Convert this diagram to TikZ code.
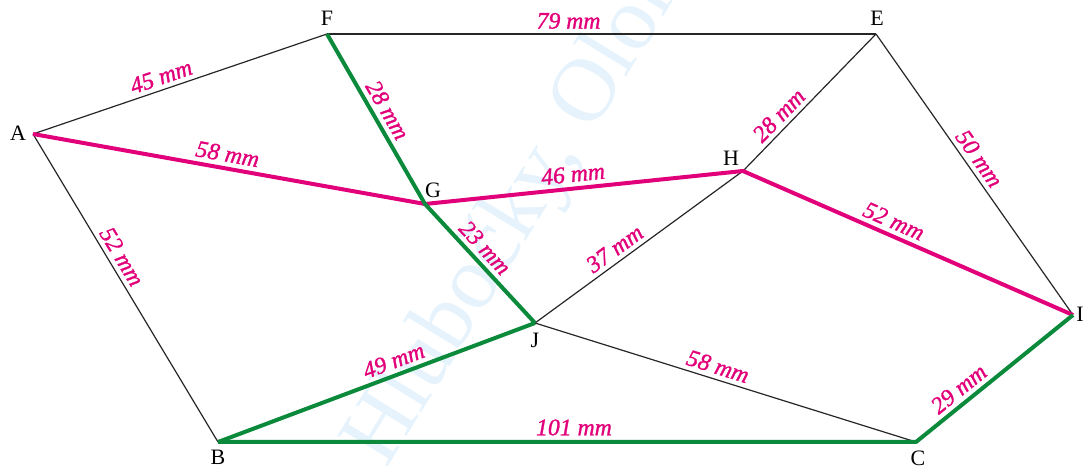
\documentclass[tikz,border=0pt]{standalone}
\usepackage{fontspec}
\setmainfont{Liberation Serif}
\newfontfamily\labfont[FakeBold=1.2]{Liberation Serif}
\definecolor{pmag}{HTML}{E2007A}
\definecolor{pgreen}{HTML}{0A8A3A}
\definecolor{wmark}{HTML}{E6F3FC}
\begin{document}
\begin{tikzpicture}[x=1pt,y=1pt,
  edgeK/.style={draw=black!85, line width=1.2pt},
  edgeG/.style={draw=pgreen, line width=4pt, line join=round},
  edgeM/.style={draw=pmag, line width=4pt, line join=round},
  lab/.style={font=\fontsize{23.7}{25}\labfont\itshape, text=pmag, sloped, above, inner sep=4.5pt},
  vlab/.style={font=\fontsize{22}{24}\selectfont, text=black, inner sep=0pt}]
\useasboundingbox (0,0) rectangle (1085,466);
\clip (0,0) rectangle (1085,466);
% watermark
\node[font=\fontsize{90}{95}\selectfont, text=wmark, rotate=58.5, anchor=base west, inner sep=0pt] (wm) at (386,-4) {Hlubočky, Olomouc};
% vertices
\coordinate (A) at (33,332);
\coordinate (F) at (327,432);
\coordinate (E) at (876,432);
\coordinate (G) at (425,262);
\coordinate (H) at (743,295);
\coordinate (J) at (535,143);
\coordinate (I) at (1073,151);
\coordinate (C) at (916,24);
\coordinate (B) at (218,24);
% thin black edges
\draw[edgeK] (A) -- node[lab, pos=0.45] {45 mm} (F);
\draw[edgeK] (F) -- node[lab, pos=0.44] {79 mm} (E);
\draw[edgeK] (H) -- node[lab, pos=0.34] {28 mm} (E);
\draw[edgeK] (E) -- node[lab, pos=0.47] {50 mm} (I);
\draw[edgeK] (A) -- node[lab, pos=0.42] {52 mm} (B);
\draw[edgeK] (J) -- node[lab, pos=0.42] {37 mm} (H);
\draw[edgeK] (J) -- node[lab, pos=0.47] {58 mm} (C);
% magenta path
\draw[edgeM] (A) -- node[lab, pos=0.49] {58 mm} (G)
  -- node[lab, pos=0.47] {46 mm} (H)
  -- node[lab, pos=0.44] {52 mm} (I);
% green path
\draw[edgeG] (F) -- node[lab, pos=0.49] {28 mm} (G)
  -- node[lab, pos=0.45] {23 mm} (J);
\draw[edgeG] (B) -- node[lab, pos=0.57] {49 mm} (J);
\draw[edgeG] (B) -- node[lab, pos=0.51] {101 mm} (C)
  -- node[lab, pos=0.33] {29 mm} (I);
% vertex labels
\node[vlab] (lA) at (18,333) {A};
\node[vlab] (lF) at (327,448) {F};
\node[vlab] (lE) at (877,448) {E};
\node[vlab] (lH) at (731,308) {H};
\node[vlab] (lG) at (433,276) {G};
\node[vlab] (lJ) at (535,126) {J};
\node[vlab] (lI) at (1080,152) {I};
\node[vlab] (lC) at (918,8) {C};
\node[vlab] (lB) at (218,9) {B};
\end{tikzpicture}
\end{document}
